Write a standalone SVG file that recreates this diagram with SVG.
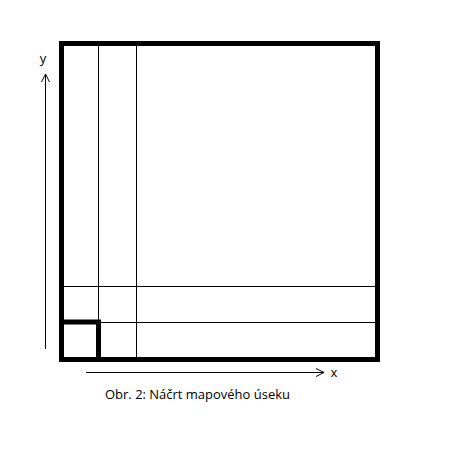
<svg xmlns="http://www.w3.org/2000/svg" width="451" height="452" viewBox="0 0 451 452">
<style>
.thin{stroke:#000;stroke-width:1;fill:none}
.thick{stroke:#000;stroke-width:5;fill:none}
.lbl{font-family:"Open Sans","Noto Sans",sans-serif;font-size:13px;fill:#000}
</style>
<rect width="451" height="452" fill="#fff"/>
<g id="map">
<rect class="thick" x="61.5" y="43.5" width="316" height="316"/>
<line class="thin" x1="98.5" y1="46" x2="98.5" y2="357"/>
<line class="thin" x1="136.5" y1="46" x2="136.5" y2="357"/>
<line class="thin" x1="64" y1="286.5" x2="375" y2="286.5"/>
<line class="thin" x1="64" y1="322.5" x2="375" y2="322.5"/>
<path class="thick" d="M61.5 322 H98.5 V359.5" stroke-width="4.5"/>
</g>
<g id="axes">
<line class="thin" x1="45.5" y1="74" x2="45.5" y2="349"/>
<path class="thin" d="M41.5 82 L45.5 74 L49.5 82"/>
<line class="thin" x1="86" y1="372.5" x2="324" y2="372.5"/>
<path class="thin" d="M316 368.5 L324 372.5 L316 376.5"/>
</g>
<text class="lbl" x="43" y="63" text-anchor="middle">y</text>
<text class="lbl" x="334" y="377" text-anchor="middle">x</text>
<text class="lbl" x="105" y="399" textLength="185">Obr. 2: Náčrt mapového úseku</text>
</svg>
